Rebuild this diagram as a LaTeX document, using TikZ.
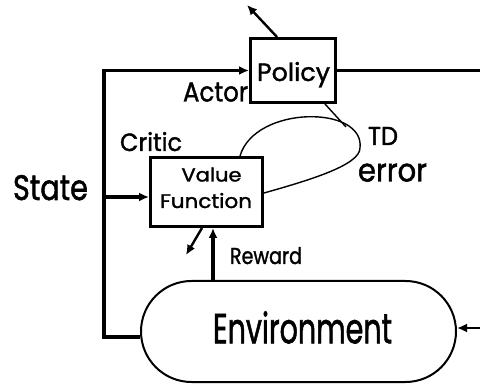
\documentclass[tikz,border=0pt]{standalone}
\usepackage{fontspec}
\setmainfont{Poppins}[FakeBold=1.5]
\usetikzlibrary{arrows.meta,shapes.misc}
\newcommand{\lbl}[3]{\resizebox{#1pt}{#2pt}{#3}}
\begin{document}
\begin{tikzpicture}[x=1pt,y=-1pt,
  box/.style={draw, line width=3.2pt, inner sep=0pt},
  conn/.style={line width=3.2pt, line join=miter},
  arr/.style={conn, -{Latex[length=10pt,width=9pt]}},
  thinarr/.style={line width=2.4pt, -{Latex[length=10pt,width=9pt]}},
  loop/.style={line width=1.4pt},
  txt/.style={inner sep=0pt, outer sep=0pt, anchor=base west}]
\useasboundingbox (0,0) rectangle (480,385);
% boxes
\node[box, minimum width=84.8pt, minimum height=63.8pt] (policy) at (293,70.5) {};
\node[box, minimum width=111.8pt, minimum height=68.8pt] (vf) at (206.5,192) {};
\node[draw, line width=2pt, rounded rectangle, inner sep=0pt,
      minimum width=315pt, minimum height=101pt] (env) at (298.5,331.5) {};
% coordinates
\coordinate (sc) at (104,70.5);
\coordinate (sv) at (104,197);
\coordinate (pr) at (480,70.5);
\coordinate (er) at (480,328);
\coordinate (rx) at (213,0);
\coordinate (ta) at (247,5);
\coordinate (tb) at (186,255);
\coordinate (ce) at (360,148);
\coordinate (pj) at (346,127);
% connectors
\draw[arr] ([yshift=-5.5pt]env.west) -| (sc) -- (policy.west);
\draw[arr] (sv) -- (sv -| vf.west);
\draw[conn] (policy.east) -- (pr);
\draw[thinarr] (er) -- (er -| env.east);
\draw[arr] (env.north -| rx) -- (vf.south -| rx);
\draw[thinarr] ([xshift=-16pt]policy.north) -- (ta);
\draw[thinarr] ([xshift=-4.5pt]vf.south) -- (tb);
\draw[loop] ([xshift=33.5pt]vf.north) .. controls (255,105) and (365,105) .. (ce)
  .. controls (360,165) and (310,180) .. ([yshift=-1pt]vf.east);
\draw[loop] ([xshift=32pt]policy.south) -- (pj);
% labels
\node[txt] (state) at (13,200) {\lbl{75}{25}{State}};
\node[txt] (policyt) at (257,81) {\lbl{73}{19}{Policy}};
\node[txt] (actor) at (183,101.5) {\lbl{65}{19}{Actor}};
\node[txt] (critic) at (120,151) {\lbl{62}{19}{Critic}};
\node[txt] (value) at (181.5,181.5) {\lbl{60}{14}{Value}};
\node[txt] (function) at (160,208) {\lbl{92}{15}{Function}};
\node[txt] (td) at (368,145) {\lbl{30}{18}{TD}};
\node[txt] (error) at (358,181.5) {\lbl{69}{18}{error}};
\node[txt] (reward) at (230,264) {\lbl{72}{17}{Reward}};
\node[txt] (envt) at (213,343.3) {\lbl{179}{32}{Environment}};
\end{tikzpicture}
\end{document}
